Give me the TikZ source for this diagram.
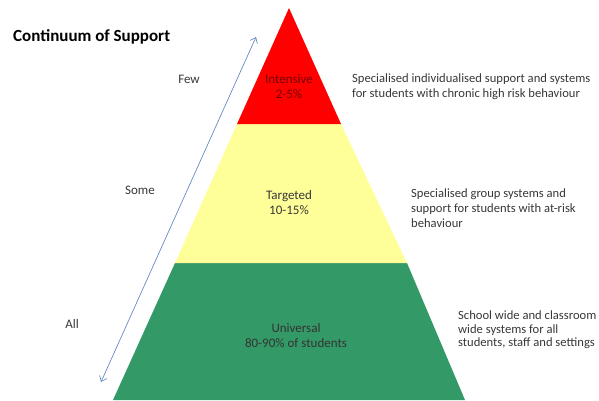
\documentclass[tikz,border=0pt]{standalone}
\usepackage{fontspec}
\setmainfont{Carlito}
\usepackage{xcolor}
\usepackage{tikz}
\usetikzlibrary{arrows.meta}
\definecolor{tierred}{RGB}{255,0,0}
\definecolor{tieryellow}{RGB}{255,255,153}
\definecolor{tiergreen}{RGB}{51,153,102}
\definecolor{arrowblue}{RGB}{100,140,195}
\definecolor{textgrey}{RGB}{55,55,55}
\tikzstyle{tier:red}=[fill=tierred]
\tikzstyle{tier:yellow}=[fill=tieryellow]
\tikzstyle{tier:green}=[fill=tiergreen]
\tikzstyle{label:tier}=[align=center,inner sep=0pt,font=\fontsize{13}{15}\selectfont]
\tikzstyle{label:desc}=[anchor=west,align=left,inner sep=0pt,text=textgrey,font=\fontsize{12.6}{15}\selectfont]
\tikzstyle{label:side}=[inner sep=0pt,text=textgrey,font=\fontsize{13}{15}\selectfont]
\tikzstyle{draw:range}=[{Straight Barb[length=5pt,width=8pt]}-{Straight Barb[length=5pt,width=8pt]}, arrowblue, line width=0.7pt]

\begin{document}
\begin{tikzpicture}[x=1pt,y=-1pt]
        \useasboundingbox (0,0) rectangle (599,401);

        % Pyramid tiers
        \fill[tier:green] (175,263) -- (407,263) -- (465,400) -- (113,400) -- cycle;
        \fill[tier:yellow] (237,124) -- (341,124) -- (407,263) -- (175,263) -- cycle;
        \fill[tier:red] (289,8) -- (341,124) -- (237,124) -- cycle;

        % Title
        \node[inner sep=0pt,anchor=west,font=\fontsize{17}{20}\selectfont\bfseries] (title) at (13,37) {Continuum of Support};

        % Tier labels
        \node[label:tier,text=red!45!black] (intensive) at (289,87) {Intensive\\2-5\%};
        \node[label:tier,text=textgrey] (targeted) at (289,203) {Targeted\\10-15\%};
        \node[label:tier,text=black!80] (universal) at (296,336) {Universal\\80-90\% of students};

        % Side labels
        \node[label:side] (few) at (189,79) {Few};
        \node[label:side] (some) at (140,190) {Some};
        \node[label:side] (all) at (72,324) {All};

        % Range arrow
        \coordinate (range-lo) at (101,382);
        \coordinate (range-hi) at (256,37);
        \draw[draw:range] (range-lo) -- (range-hi);

        % Descriptions
        \node[label:desc] (desc-intensive) at (352,87) {Specialised individualised support and systems\\for students with chronic high risk behaviour};
        \node[label:desc] (desc-targeted) at (411,208) {Specialised group systems and\\support for students with at-risk\\behaviour};
        \node[label:desc,font=\fontsize{12.6}{13.5}\selectfont] (desc-universal) at (458,330) {School wide and classroom\\wide systems for all\\students, staff and settings};
    \end{tikzpicture}
\end{document}
